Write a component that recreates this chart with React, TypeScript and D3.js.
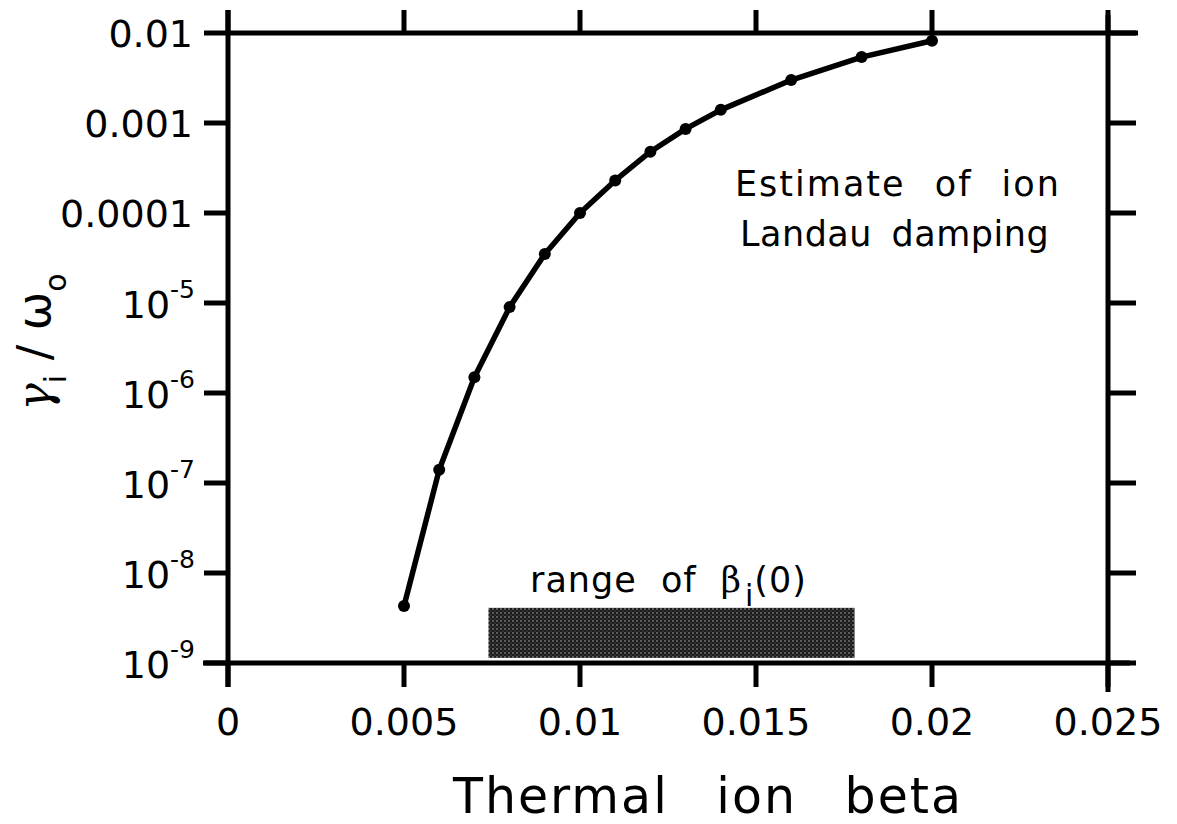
import React from "react";
import * as d3 from "d3";

const betaValues = [0.005, 0.006, 0.007, 0.008, 0.009, 0.010, 0.011, 0.012, 0.013, 0.014, 0.016, 0.018, 0.020];
const dampingValues = [4.3e-9, 1.4e-7, 1.5e-6, 9.0e-6, 3.5e-5, 1.0e-4, 2.3e-4, 4.8e-4, 8.6e-4, 1.4e-3, 3.0e-3, 5.4e-3, 8.2e-3];
const rangeBeta = [0.0074, 0.0178];
const rangeDamping = [1.14e-9, 4.1e-9];
const xTicks = [0, 0.005, 0.01, 0.015, 0.02, 0.025];
const xTickLabels = ["0", "0.005", "0.01", "0.015", "0.02", "0.025"];
const yTicks = [1e-2, 1e-3, 1e-4, 1e-5, 1e-6, 1e-7, 1e-8, 1e-9];
const yTickPlain = ["0.01", "0.001", "0.0001"];
const yTickExp = ["", "", "", "-5", "-6", "-7", "-8", "-9"];

const W = 1177;
const H = 824;
const L = 228, R = 1108, T = 33, B = 663;
const FONT = "'DejaVu Sans', 'Open Sans', sans-serif";

export default function App() {
  const x = d3.scaleLinear().domain([0, 0.025]).range([L, R]);
  const y = d3.scaleLog().domain([1e-9, 1e-2]).range([B, T]);
  const pts = betaValues.map((b, i) => [b, dampingValues[i]] as [number, number]);
  const line = d3.line<[number, number]>().x((d) => x(d[0])).y((d) => y(d[1]))(pts) || "";
  const tick = 24;
  const sw = 5;

  return (
    <svg width={W} height={H} style={{ position: "absolute", left: 0, top: 0, background: "#fff" }} fontFamily={FONT}>
      <defs>
        <pattern id="stipple" width="4" height="4" patternUnits="userSpaceOnUse">
          <rect width="4" height="4" fill="#1a1a1a" />
          <circle cx="1" cy="1" r="0.75" fill="#bbb" />
          <circle cx="3" cy="3" r="0.6" fill="#777" />
        </pattern>
      </defs>
      <rect width={W} height={H} fill="#fff" />

      {/* range bar */}
      <rect
        x={x(rangeBeta[0])}
        y={y(rangeDamping[1])}
        width={x(rangeBeta[1]) - x(rangeBeta[0])}
        height={y(rangeDamping[0]) - y(rangeDamping[1])}
        fill="url(#stipple)"
      />

      {/* frame */}
      <g stroke="#000" strokeWidth={sw} strokeLinecap="butt">
        <line x1={L} x2={R + 30} y1={T} y2={T} />
        <line x1={L - 25} x2={R + 22} y1={B} y2={B} />
        <line x1={L} x2={L} y1={T - 23} y2={B + tick} />
        <line x1={R} x2={R} y1={T - 18} y2={B + 29} />
        {xTicks.map((v, i) => (
          <g key={"xt" + i}>
            <line x1={x(v)} x2={x(v)} y1={T} y2={T - tick + 1} />
            <line x1={x(v)} x2={x(v)} y1={B} y2={B + tick} />
          </g>
        ))}
        {yTicks.map((v, i) => (
          <g key={"yt" + i}>
            <line x1={L} x2={L - tick} y1={y(v)} y2={y(v)} />
            <line x1={R} x2={R + 28} y1={y(v)} y2={y(v)} />
          </g>
        ))}
      </g>

      {/* x tick labels */}
      {xTicks.map((v, i) => (
        <text key={"xl" + i} x={x(v)} y={735} fontSize={38} textAnchor="middle" fill="#000">
          {xTickLabels[i]}
        </text>
      ))}

      {/* y tick labels */}
      {yTicks.map((v, i) =>
        i < 3 ? (
          <text key={"yl" + i} x={193} y={y(v) + 14} fontSize={38} textAnchor="end" fill="#000">
            {yTickPlain[i]}
          </text>
        ) : (
          <text key={"yl" + i} x={195} y={y(v) + 15} fontSize={38} textAnchor="end" fill="#000">
            10
            <tspan fontSize={25} dy={-20}>{yTickExp[i]}</tspan>
          </text>
        )
      )}

      {/* data line */}
      <path d={line} fill="none" stroke="#000" strokeWidth={5.5} strokeLinejoin="round" />
      {pts.map((d, i) => (
        <circle key={"p" + i} cx={x(d[0])} cy={y(d[1])} r={6} fill="#000" />
      ))}

      {/* annotations */}
      <text x={735} y={196} fontSize={35} fill="#000" letterSpacing={2} wordSpacing={16}>
        Estimate of ion
      </text>
      <text x={740} y={246} fontSize={35} fill="#000" letterSpacing={0.5} wordSpacing={8}>
        Landau damping
      </text>

      <text x={530} y={592} fontSize={35} fill="#000" letterSpacing={1} wordSpacing={12}>
        <tspan>range of </tspan>
        <tspan fontFamily="'DejaVu Serif', serif">β</tspan>
        <tspan fontSize={30} dx={3} dy={14}>i</tspan>
        <tspan dy={-14}>(0)</tspan>
      </text>

      {/* axis titles */}
      <text x={708} y={813} fontSize={49} textAnchor="middle" fill="#000" letterSpacing={2} wordSpacing={30}>
        Thermal ion beta
      </text>
      <text transform="translate(50,342) rotate(-90)" fontSize={46} textAnchor="middle" fill="#000">
        <tspan fontFamily="'DejaVu Serif', serif" fontStyle="italic">γ</tspan>
        <tspan fontSize={30} dy={16}>i</tspan>
        <tspan dy={-16}> / ω</tspan>
        <tspan fontSize={30} dy={16}>o</tspan>
      </text>
    </svg>
  );
}
